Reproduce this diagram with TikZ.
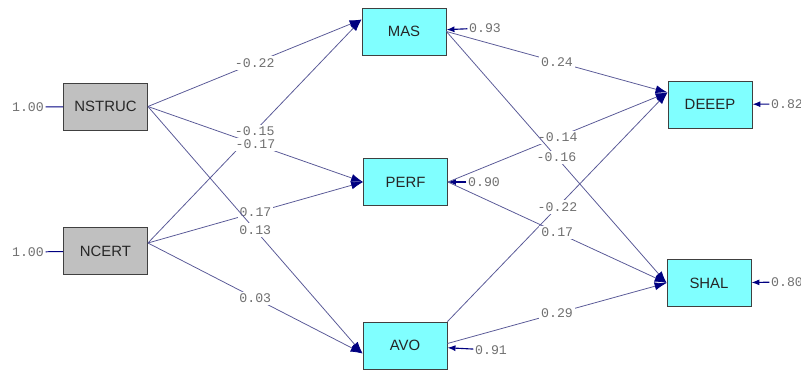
\documentclass[tikz,border=0pt]{standalone}
\usepackage{fontspec}
\setmainfont{Liberation Sans}
\setmonofont{Liberation Mono}
\usetikzlibrary{arrows.meta}
\definecolor{boxcyan}{RGB}{128,255,255}
\definecolor{boxgray}{RGB}{192,192,192}
\definecolor{pathblue}{RGB}{88,88,150}
\definecolor{tipblue}{RGB}{0,0,128}
\definecolor{valgray}{RGB}{112,112,112}

\begin{document}
\begin{tikzpicture}[x=0.025cm, y=-0.025cm,
varbox/.style={draw=black!75, line width=0.6pt, minimum width=2.1cm, minimum height=1.175cm, inner sep=0pt, font=\fontsize{10.6}{12}\selectfont, text=black!85},
exobox/.style={varbox, fill=boxgray},
endobox/.style={varbox, fill=boxcyan},
coef/.style={font=\ttfamily\fontsize{9.4}{10}\selectfont, text=valgray, inner sep=1pt},
coeflbl/.style={coef, fill=white, inner sep=1.5pt},
effect/.style={draw=pathblue, line width=0.55pt, -{Latex[length=0.3cm, width=0.2cm, color=tipblue]}},
resid/.style={draw=tipblue, line width=0.8pt, -{Latex[length=0.2cm, width=0.15cm]}},
fixed/.style={draw=tipblue, line width=0.7pt}]
\useasboundingbox (0,0) rectangle (801,369);
%================================================================
%	Boxes
\node[exobox] (nstruc) at (105.5,106.5) {NSTRUC};
\node[exobox] (ncert) at (105.5,251) {NCERT};

\node[endobox] (mas) at (404,31.5) {MAS};
\node[endobox] (perf) at (405.5,182) {PERF};
\node[endobox] (avo) at (405,345.5) {AVO};

\node[endobox] (deeep) at (710,104.5) {DEEEP};
\node[endobox] (shal) at (709,283) {SHAL};

%----------------------------------------------------------------
%	Variances
\node[coef] (vnstruc) at (28,107) {1.00};
\node[coef] (vncert) at (28,252) {1.00};
\node[coef] (vmas) at (485,28) {0.93};
\node[coef] (vperf) at (484,182) {0.90};
\node[coef] (vavo) at (491,350) {0.91};
\node[coef] (vdeeep) at (787,104) {0.82};
\node[coef] (vshal) at (787,282) {0.80};

\draw[fixed] (vnstruc) -- (nstruc);
\draw[fixed] (vncert) -- (ncert);
\draw[resid] (vmas) -- (mas);
\draw[resid] (vperf) -- (perf);
\draw[resid] (vavo) -- (avo);
\draw[resid] (vdeeep) -- (deeep);
\draw[resid] (vshal) -- (shal);

%================================================================
%	Paths
\draw[effect] (nstruc.east) -- node[coeflbl] {-0.22} ([yshift=0.3cm]mas.west);
\draw[effect] ([yshift=0.2cm]ncert.east) -- node[coeflbl] {-0.15} ([yshift=0.3cm]mas.west);
\draw[effect] (nstruc.east) -- node[coeflbl] {-0.17} (perf.west);
\draw[effect] ([yshift=0.2cm]ncert.east) -- node[coeflbl] {0.17} (perf.west);
\draw[effect] (nstruc.east) -- node[coeflbl] {0.13} ([yshift=-0.2cm]avo.west);
\draw[effect] ([yshift=0.2cm]ncert.east) -- node[coeflbl] {0.03} ([yshift=-0.2cm]avo.west);

\draw[effect] (mas.east) -- node[coeflbl] {0.24} ([yshift=0.3cm]deeep.west);
\draw[effect] (perf.east) -- node[coeflbl] {-0.14} ([yshift=0.3cm]deeep.west);
\draw[effect] (avo.north east) -- node[coeflbl] {-0.22} ([yshift=0.3cm]deeep.west);
\draw[effect] (mas.east) -- node[coeflbl] {-0.16} (shal.west);
\draw[effect] (perf.east) -- node[coeflbl] {0.17} (shal.west);
\draw[effect] ([yshift=0.05cm]avo.east) -- node[coeflbl] {0.29} (shal.west);
%================================================================
\end{tikzpicture}
\end{document}
